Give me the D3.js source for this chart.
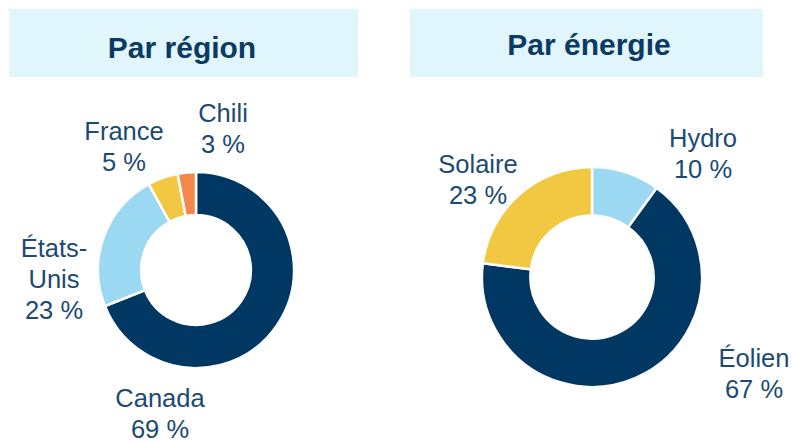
<!DOCTYPE html>
<meta charset="utf-8">
<title>Par région / Par énergie</title>
<style>
body { margin: 0; background: #fff; }
svg { display: block; font-family: "Liberation Sans", Arial, sans-serif; }
.title { font-weight: bold; font-size: 30px; fill: #0b3a63; }
.lbl { font-size: 25.5px; fill: #1b4a75; }
</style>
<svg></svg>
<script src="https://cdnjs.cloudflare.com/ajax/libs/d3/7.8.5/d3.min.js"></script>
<script>
var width = 792, height = 442;

// data
var regionNames = ["Canada", "États-Unis", "France", "Chili"];
var regionValues = [69, 23, 5, 3];
var energyNames = ["Hydro", "Éolien", "Solaire"];
var energyValues = [10, 67, 23];

var regionColors = ["#013863", "#9bd8f1", "#f2c842", "#f4874b"];
var energyColors = ["#9bd8f1", "#013863", "#f2c842"];

// label layout (offset of first baseline from donut centre, line breaks)
var regionLabels = [
  { lines: ["Canada"], dx: -36, dy: 137 },
  { lines: ["États-", "Unis"], dx: -142, dy: -13 },
  { lines: ["France"], dx: -72, dy: -130 },
  { lines: ["Chili"], dx: 27, dy: -148 }
];
var energyLabels = [
  { lines: ["Hydro"], dx: 111, dy: -130 },
  { lines: ["Éolien"], dx: 162, dy: 90 },
  { lines: ["Solaire"], dx: -114, dy: -104 }
];

var svg = d3.select("svg").attr("width", width).attr("height", height);

function panel(opt) {
  var g = svg.append("g");

  g.append("rect")
    .attr("x", opt.box[0]).attr("y", 9)
    .attr("width", opt.box[1] - opt.box[0]).attr("height", 68)
    .attr("fill", "#e1f5fd");

  g.append("text")
    .attr("class", "title")
    .attr("x", opt.tx).attr("y", opt.ty)
    .attr("text-anchor", "middle")
    .text(opt.title);

  var pie = d3.pie().sort(null).value(d => d);
  var arc = d3.arc().innerRadius(opt.r * 0.56).outerRadius(opt.r);

  var c = g.append("g").attr("transform", "translate(" + opt.cx + "," + opt.cy + ")");

  c.selectAll("path")
    .data(pie(opt.values))
    .enter()
    .append("path")
    .attr("d", arc)
    .attr("fill", (d, i) => opt.colors[i])
    .attr("stroke", "#fff")
    .attr("stroke-width", 2.5)
    .attr("stroke-linejoin", "miter");

  var lbl = c.selectAll("text.lbl")
    .data(opt.labels)
    .enter()
    .append("text")
    .attr("class", "lbl")
    .attr("text-anchor", "middle")
    .attr("transform", d => "translate(" + d.dx + "," + d.dy + ")");

  lbl.each(function(d, i) {
    var t = d3.select(this);
    var lines = d.lines.concat([opt.values[i] + " %"]);
    lines.forEach(function(s, k) {
      t.append("tspan")
        .attr("x", 0)
        .attr("y", k * 31)
        .text(s);
    });
  });
}

panel({
  title: "Par région", box: [9, 358], tx: 182, ty: 58,
  cx: 196, cy: 270, r: 98,
  values: regionValues, colors: regionColors, labels: regionLabels
});

panel({
  title: "Par énergie", box: [410, 763], tx: 589, ty: 55,
  cx: 592, cy: 277, r: 110,
  values: energyValues, colors: energyColors, labels: energyLabels
});
</script>
